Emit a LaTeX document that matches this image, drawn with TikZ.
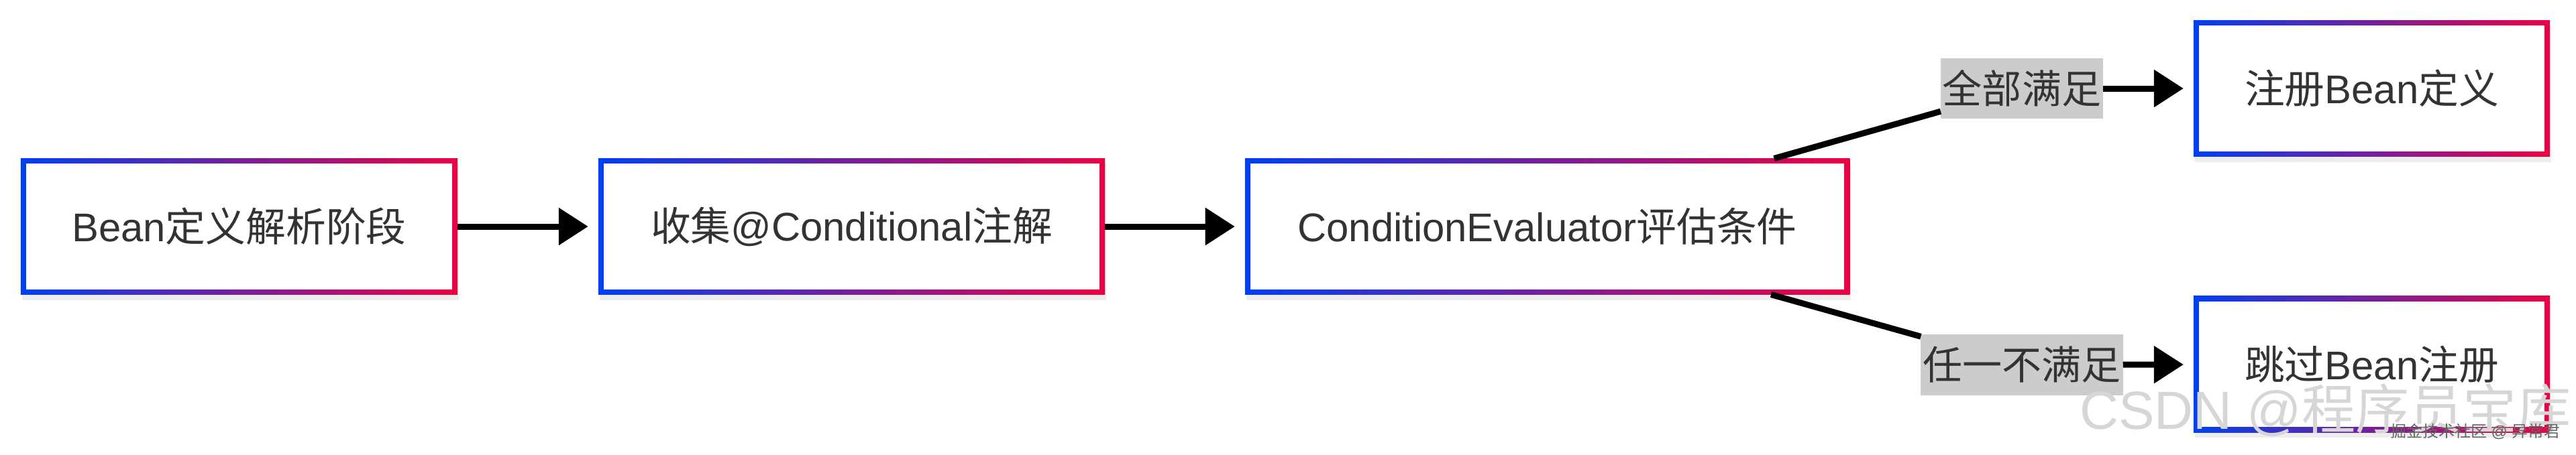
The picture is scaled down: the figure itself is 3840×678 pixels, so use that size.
\documentclass[tikz,border=0pt]{standalone}
\usepackage{fontspec}
\setmainfont{Liberation Sans}
\newfontfamily\cjk{Noto Sans CJK SC}
\usetikzlibrary{arrows.meta,shadows,calc}
\definecolor{gblue}{RGB}{0,64,240}
\definecolor{gred}{RGB}{236,0,68}
\definecolor{txt}{HTML}{333333}
\definecolor{lblbg}{HTML}{CCCCCC}
\begin{document}
\begin{tikzpicture}[x=0.01cm,y=-0.01cm,
  box/.style={shape=rectangle, inner sep=0pt, outer sep=0pt, minimum height=2.03cm,
    left color=gblue, right color=gred, text=txt,
    font=\fontsize{17}{20}\selectfont,
    drop shadow={shadow xshift=0.02cm, shadow yshift=-0.08cm, fill=black, opacity=0.07},
    path picture={\fill[white] ([shift={(0.08cm,-0.08cm)}]path picture bounding box.north west)
      rectangle ([shift={(-0.08cm,0.08cm)}]path picture bounding box.south east);}},
  lbl/.style={shape=rectangle, fill=lblbg, text=txt, inner xsep=0.03cm, inner ysep=0pt,
    minimum height=0.9cm, outer sep=0pt, font=\fontsize{16.8}{20}\selectfont},
  conn/.style={line width=0.09cm, -{Triangle[length=0.44cm,width=0.54cm]}, shorten >=0.15cm},
  plain/.style={line width=0.09cm}
]
\fill[white] (0,0) rectangle (3840,678);
\node[box, minimum width=6.51cm] (n1) at (356.5,338) {Bean{\cjk 定义解析阶段}};
\node[box, minimum width=7.55cm] (n2) at (1269.5,338) {{\cjk 收集}@Conditional{\cjk 注解}};
\node[box, minimum width=9.01cm] (n3) at (2306.5,338) {ConditionEvaluator{\cjk 评估条件}};
\node[box, minimum width=5.31cm] (n4) at (3535.5,132) {{\cjk 注册}Bean{\cjk 定义}};
\node[box, minimum width=5.31cm] (n5) at (3535.5,543.5) {{\cjk 跳过}Bean{\cjk 注册}};
\node[lbl] (l1) at (3014,132) {{\cjk 全部满足}};
\node[lbl] (l2) at (3014,544.5) {{\cjk 任一不满足}};
\coordinate (s1) at ($(n3.north west)!0.875!(n3.north east)$);
\coordinate (s2) at ($(n3.south west)!0.87!(n3.south east)$);
\draw[conn] (n1) -- (n2);
\draw[conn] (n2) -- (n3);
\draw[plain] (s1) -- (l1);
\draw[conn] (l1) -- (n4);
\draw[plain] (s2) -- (l2);
\draw[conn] (l2) -- (n5);
\node[anchor=base east, inner sep=0pt, text=black!16, font=\fontsize{22.8}{26}\selectfont] (wm1) at (3833,640) {CSDN @{\cjk 程序员宝库}};
\node[anchor=base east, inner sep=0pt, text=black!60, font=\fontsize{6.8}{8}\selectfont] (wm2) at (3817,652) {{\cjk 掘金技术社区} @ {\cjk 异常君}};
\end{tikzpicture}
\end{document}
